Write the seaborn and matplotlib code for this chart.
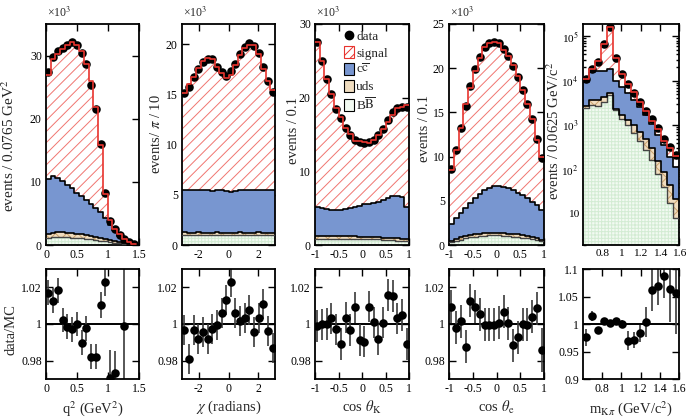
import numpy as np
import pandas as pd
import matplotlib
matplotlib.use("Agg")
import matplotlib.pyplot as plt
import seaborn as sns
from matplotlib.patches import Patch
from matplotlib.lines import Line2D
from matplotlib.ticker import FixedLocator, FuncFormatter, LogLocator, NullFormatter, FixedFormatter

# ---------------- data (values in units of 10^3 events for the linear panels) -------------
q2_edges_start, q2_binw, q2_nbins = 0.0, 0.0765, 19
q2_data = [27.4, 29.8, 30.7, 31.2, 31.7, 32.1, 31.7, 30.4, 28.6, 25.4, 21.5, 16.0, 8.3, 3.8, 2.5, 1.6, 0.9, 0.5, 0.15]
q2_mc = [26.9, 29.4, 30.2, 31.1, 31.75, 32.2, 31.7, 30.7, 28.7, 25.9, 21.9, 15.8, 8.1, 3.9, 2.6, 1.7, 0.9, 0.5, 0.15]
q2_cc = [10.4, 11.0, 10.6, 10.1, 9.5, 9.0, 8.3, 7.7, 7.1, 6.5, 5.8, 5.3, 4.2, 3.2, 2.3, 1.5, 0.8, 0.35, 0.08]
q2_uds = [1.7, 1.9, 2.0, 2.0, 1.95, 1.9, 1.8, 1.7, 1.6, 1.45, 1.3, 1.15, 0.95, 0.8, 0.6, 0.4, 0.25, 0.12, 0.03]
q2_bb = [1.1, 1.2, 1.25, 1.25, 1.2, 1.15, 1.1, 1.05, 1.0, 0.9, 0.8, 0.7, 0.6, 0.5, 0.38, 0.26, 0.16, 0.08, 0.02]
q2_ratio = [1.0171, 1.0127, 1.0185, 1.0022, 0.9985, 0.9971, 1.0, 0.9898, 0.9976, 0.9822, 0.9822,
            1.0104, 1.0227, 0.9707, 0.9735, np.nan, 0.9989]
q2_ratio_err = [0.007, 0.0068, 0.0068, 0.0068, 0.0068, 0.0068, 0.0068, 0.0068, 0.007, 0.007, 0.007,
                0.0072, 0.0075, 0.015, 0.012, np.nan, 0.05]

chi_nbins = 20
chi_data = [15.1, 15.7, 16.7, 17.5, 18.2, 18.5, 18.5, 17.7, 17.2, 16.8, 17.3, 18.0, 19.0, 19.7, 20.1, 19.8, 19.1, 17.7, 16.3, 15.2]
chi_mc = [15.15, 16.0, 16.75, 17.65, 18.3, 18.65, 18.55, 17.7, 17.1, 16.6, 16.9, 17.9, 18.95, 19.6, 19.95, 19.9, 19.05, 17.5, 16.35, 15.4]
chi_cc = [5.5, 5.45, 5.5, 5.5, 5.45, 5.5, 5.4, 5.45, 5.45, 5.4, 5.3, 5.4, 5.45, 5.5, 5.45, 5.5, 5.5, 5.45, 5.5, 5.45]
chi_uds = [1.25, 1.2, 1.2, 1.25, 1.2, 1.2, 1.2, 1.25, 1.2, 1.2, 1.2, 1.2, 1.25, 1.2, 1.2, 1.2, 1.25, 1.2, 1.2, 1.2]
chi_bb = [0.95, 0.95, 0.95, 0.95, 0.95, 0.95, 0.95, 0.95, 0.95, 0.95, 0.95, 0.95, 0.95, 0.95, 0.95, 0.95, 0.95, 0.95, 0.95, 0.95]
chi_ratio = [0.9967, 0.9809, 0.9967, 0.9916, 0.9958, 0.9916, 0.9971, 0.9995, 1.0062, 1.0131, 1.0231, 1.0062,
             1.0016, 1.0035, 1.0076, 0.9958, 1.0035, 1.0109, 0.9962, 0.9867]
chi_ratio_err = [0.0082] * 20

ck_data = [27.5, 25.0, 22.6, 20.5, 18.5, 17.2, 15.9, 15.0, 14.3, 14.0, 13.8, 14.0, 14.3, 14.9, 15.8, 17.0, 18.0, 18.6, 18.8, 18.8]
ck_mc = [27.5, 25.0, 22.6, 20.45, 18.55, 17.4, 15.85, 15.05, 14.15, 14.1, 13.95, 13.85, 14.3, 15.0, 15.8, 16.7, 17.7, 18.55, 18.7, 19.0]
ck_cc = [5.1, 5.0, 4.9, 4.8, 4.75, 4.8, 4.9, 5.0, 5.2, 5.35, 5.5, 5.6, 5.75, 5.9, 6.1, 6.4, 6.7, 6.7, 6.5, 5.1]
ck_uds = [1.25, 1.25, 1.25, 1.25, 1.2, 1.2, 1.2, 1.2, 1.2, 1.15, 1.15, 1.1, 1.1, 1.05, 1.0, 1.0, 0.95, 0.9, 0.85, 0.8]
ck_bb = [0.85, 0.85, 0.85, 0.85, 0.85, 0.85, 0.85, 0.85, 0.8, 0.8, 0.8, 0.8, 0.75, 0.75, 0.7, 0.7, 0.65, 0.6, 0.55, 0.5]
ck_ratio = [0.9989, 0.9998, 1.0, 1.0031, 0.9971, 0.9891, 1.0035, 0.9967, 1.0091, 0.9913, 0.9904, 1.0095,
            1.0009, 0.9918, 1.0007, 1.0158, 1.0153, 1.0031, 1.0049, 0.9891]
ck_ratio_err = [0.0085] * 20

ce_data = [8.6, 10.7, 13.2, 15.7, 18.0, 19.9, 21.3, 22.4, 22.9, 23.0, 22.9, 22.2, 21.4, 20.2, 19.0, 17.5, 15.9, 14.3, 12.0, 9.8]
ce_mc = [8.5, 10.7, 13.2, 15.9, 17.8, 19.7, 21.2, 22.4, 22.9, 23.0, 22.9, 22.05, 21.4, 20.4, 19.15, 17.5, 15.9, 14.25, 11.9, 9.95]
ce_cc = [2.4, 3.0, 3.6, 4.2, 4.8, 5.3, 5.8, 6.2, 6.5, 6.7, 6.7, 6.6, 6.4, 6.2, 5.9, 5.6, 5.3, 4.9, 4.5, 4.0]
ce_uds = [0.45, 0.65, 0.85, 1.0, 1.15, 1.25, 1.3, 1.35, 1.4, 1.4, 1.4, 1.35, 1.3, 1.25, 1.2, 1.1, 1.0, 0.9, 0.8, 0.6]
ce_bb = [0.3, 0.45, 0.6, 0.75, 0.85, 0.95, 1.0, 1.05, 1.1, 1.1, 1.1, 1.05, 1.0, 0.95, 0.9, 0.8, 0.75, 0.65, 0.55, 0.4]
ce_ratio = [1.0095, 0.998, 1.0016, 0.9876, 1.0127, 1.0095, 1.0053, 0.9995, 0.9995, 0.9995, 1.0007, 1.0067,
            1.0005, 0.9883, 0.9927, 1.0, 0.9995, 1.004, 1.0085, 0.9858]
ce_ratio_err = [0.009] * 19 + [0.012]

# m_Kpi panel: absolute events (log scale)
m_data = [1.07e4, 1.86e4, 2.7e4, 6.8e4, 1.6e5, 3.3e4, 1.45e4, 8.3e3, 5.3e3, 3.3e3, 2.1e3, 1.35e3, 860, 490, 320, 210]
m_mc = [1.1e4, 1.83e4, 2.73e4, 6.76e4, 1.6e5, 3.28e4, 1.45e4, 8.55e3, 5.45e3, 3.35e3, 2.1e3, 1.27e3, 805, 450, 300, 200]
m_cc = [9.6e3, 1.58e4, 1.7e4, 1.63e4, 1.85e4, 1.0e4, 7.4e3, 5.4e3, 3.7e3, 2.6e3, 1.7e3, 1.05e3, 590, 350, 188, 113]
m_uds = [2.7e3, 3.7e3, 3.7e3, 4.3e3, 5.3e3, 2.3e3, 1.7e3, 1.3e3, 1.0e3, 710, 500, 305, 158, 87, 44, 22]
m_bb = [2.5e3, 2.8e3, 2.7e3, 3.4e3, 4.8e3, 2.2e3, 1.4e3, 1.0e3, 650, 435, 270, 166, 80, 40, 18, 8]
m_ratio = [0.9758, 1.0145, 0.989, 1.006, 1.0024, 1.0055, 1.0, 0.970, 0.971, 0.983, 1.004, 1.062, 1.069, 1.087, 1.063, 1.056]
m_ratio_err = [0.016, 0.009, 0.006, 0.005, 0.004, 0.005, 0.007, 0.017, 0.015, 0.015, 0.027, 0.038, 0.035, 0.04, 0.06, 0.075]

legend_labels = ["data", "signal", r"c$\overline{\mathrm{c}}$", "uds", r"B$\overline{\mathrm{B}}$"]

# ---------------- style -------------
sns.set_style("ticks")
plt.rcParams['font.family'] = ['Liberation Serif', 'DejaVu Serif']
plt.rcParams['mathtext.fontset'] = 'stix'
plt.rcParams['axes.unicode_minus'] = False
plt.rcParams['hatch.linewidth'] = 0.7

RED = '#e8342e'
RED_HATCH = '#f07570'
BLUE = '#7896d0'
TAN_FACE = '#efdcbf'
TAN_HATCH = '#c9a06a'
GREEN_FACE = '#f2faf2'
GREEN_HATCH = '#d3ecd3'

W, H = 687, 417
fig = plt.figure(figsize=(W / 100, H / 100), dpi=100)


def px_axes(x0, x1, y0, y1):
    return fig.add_axes([x0 / W, 1 - y1 / H, (x1 - x0) / W, (y1 - y0) / H])


def style_axes(ax, labelsize=8.5):
    for s in ax.spines.values():
        s.set_visible(True)
        s.set_linewidth(1.3)
        s.set_color('black')
    ax.tick_params(which='both', direction='in', top=True, right=True, colors='black',
                   labelsize=labelsize, width=1.0, pad=3)
    ax.tick_params(which='major', length=5)
    ax.tick_params(which='minor', length=2.5)
    ax.set_facecolor('white')


def hist_layer(ax, centers, vals, edges, **kw):
    df = pd.DataFrame({'x': np.asarray(centers, float), 'w': np.asarray(vals, float)})
    sns.histplot(data=df, x='x', weights='w', bins=list(edges), element='step', ax=ax, **kw)


def draw_stack(ax, edges, mc, cc, uds, bb, data):
    centers = (edges[:-1] + edges[1:]) / 2
    layers = [(mc, 'white', RED_HATCH, '///'),
              (cc, BLUE, BLUE, None),
              (uds, TAN_FACE, TAN_HATCH, 'xxx'),
              (bb, GREEN_FACE, GREEN_HATCH, '+++++')]
    for vals, face, hc, hatch in layers:
        n0 = len(ax.collections)
        hist_layer(ax, centers, vals, edges, fill=True, color=face, alpha=1, linewidth=0)
        for coll in ax.collections[n0:]:
            coll.set_facecolor(face)
            coll.set_edgecolor(hc)
            coll.set_linewidth(0)
            if hatch:
                coll.set_hatch(hatch)
    sns.scatterplot(x=centers, y=data, ax=ax, color='black', s=38, linewidth=0, zorder=3)
    for vals, c, lw in [(bb, '#444444', 1.0), (uds, 'black', 1.2), (cc, 'black', 1.2), (mc, RED, 1.2)]:
        hist_layer(ax, centers, vals, edges, fill=False, color=c, linewidth=lw, zorder=4)
    ax.set_xlabel('')
    ax.set_ylabel('')


def draw_ratio(ax, centers, ratio, err):
    ratio = np.asarray(ratio, float)
    err = np.asarray(err, float)
    ok = ~np.isnan(ratio)
    ax.axhline(1.0, color='black', lw=1.4, zorder=1)
    ax.errorbar(centers[ok], ratio[ok], yerr=err[ok], fmt='none', ecolor='#3a3a3a', elinewidth=1.2, zorder=2)
    sns.scatterplot(x=centers[ok], y=ratio[ok], ax=ax, color='black', s=38, linewidth=0, zorder=3)
    ax.set_xlabel('')
    ax.set_ylabel('')


gfmt = FuncFormatter(lambda v, p: '%g' % v)

xs = [(46, 139), (182, 275), (315, 409), (449, 544), (583, 679)]
TOP = (24, 245)
BOT = (269, 379)

q2_edges = q2_edges_start + q2_binw * np.arange(q2_nbins + 1)
chi_edges = np.linspace(-np.pi, np.pi, chi_nbins + 1)
c_edges = np.linspace(-1, 1, 21)
m_edges = np.linspace(0.6, 1.6, 17)

panels = [
    dict(edges=q2_edges, mc=q2_mc, cc=q2_cc, uds=q2_uds, bb=q2_bb, data=q2_data, xlim=(0, 1.5),
         xt=[0, 0.5, 1, 1.5], ylim=(0, 35), yt=[0, 10, 20, 30], ylabel='events / 0.0765 GeV$^2$',
         ylab_c=146, ylab_r=17, ylab_fs=11.0,
         ratio=q2_ratio, rerr=q2_ratio_err, rlim=(0.97, 1.03), rt=[0.98, 1.0, 1.02], xlabel='q$^2$ (GeV$^2$)'),
    dict(edges=chi_edges, mc=chi_mc, cc=chi_cc, uds=chi_uds, bb=chi_bb, data=chi_data, xlim=(-np.pi, np.pi),
         xt=[-2, 0, 2], ylim=(0, 22), yt=[0, 5, 10, 15, 20], ylabel='events/ $\\pi$ / 10',
         ylab_c=134, ylab_r=163, ylab_fs=10.5,
         ratio=chi_ratio, rerr=chi_ratio_err, rlim=(0.97, 1.03), rt=[0.98, 1.0, 1.02], xlabel='$\\chi$ (radians)'),
    dict(edges=c_edges, mc=ck_mc, cc=ck_cc, uds=ck_uds, bb=ck_bb, data=ck_data, xlim=(-1, 1),
         xt=[-1, -0.5, 0, 0.5, 1], ylim=(0, 30), yt=[0, 10, 20, 30], ylabel='events / 0.1',
         ylab_c=130, ylab_r=300, ylab_fs=10.5,
         ratio=ck_ratio, rerr=ck_ratio_err, rlim=(0.97, 1.03), rt=[0.98, 1.0, 1.02], xlabel='cos $\\theta_\\mathrm{K}$'),
    dict(edges=c_edges, mc=ce_mc, cc=ce_cc, uds=ce_uds, bb=ce_bb, data=ce_data, xlim=(-1, 1),
         xt=[-1, -0.5, 0, 0.5, 1], ylim=(0, 25), yt=[0, 5, 10, 15, 20, 25], ylabel='events / 0.1',
         ylab_c=129, ylab_r=431, ylab_fs=10.5,
         ratio=ce_ratio, rerr=ce_ratio_err, rlim=(0.97, 1.03), rt=[0.98, 1.0, 1.02], xlabel='cos $\\theta_\\mathrm{e}$'),
    dict(edges=m_edges, mc=m_mc, cc=m_cc, uds=m_uds, bb=m_bb, data=m_data, xlim=(0.6, 1.6),
         xt=[0.8, 1, 1.2, 1.4, 1.6], ylim=(2, 1.9e5), yt=None, ylabel='events / 0.0625 GeV/c$^2$',
         ylab_c=131, ylab_r=562, ylab_fs=10.5,
         ratio=m_ratio, rerr=m_ratio_err, rlim=(0.9, 1.1), rt=[0.9, 0.95, 1.0, 1.05, 1.1],
         xlabel='m$_{\\mathrm{K}\\pi}$ (GeV/c$^2$)'),
]

for i, p in enumerate(panels):
    x0, x1 = xs[i]
    ax = px_axes(x0, x1, *TOP)
    draw_stack(ax, p['edges'], p['mc'], p['cc'], p['uds'], p['bb'], p['data'])
    style_axes(ax, labelsize=8.5 if i < 4 else 8.2)
    ax.set_xlim(*p['xlim'])
    ax.xaxis.set_major_locator(FixedLocator(p['xt']))
    ax.xaxis.set_major_formatter(gfmt)
    if i == 4:
        ax.set_yscale('log')
        ax.set_ylim(*p['ylim'])
        ax.yaxis.set_major_locator(FixedLocator([10, 1e2, 1e3, 1e4, 1e5]))
        ax.yaxis.set_major_formatter(FixedFormatter(['10', '10$^2$', '10$^3$', '10$^4$', '10$^5$']))
        ax.yaxis.set_minor_locator(LogLocator(base=10, subs=np.arange(2, 10)))
        ax.yaxis.set_minor_formatter(NullFormatter())
    else:
        ax.set_ylim(*p['ylim'])
        ax.yaxis.set_major_locator(FixedLocator(p['yt']))
        ax.yaxis.set_major_formatter(gfmt)
        fig.text((x0 + 1) / W, 1 - 17 / H, '×10$^3$', fontsize=8.5, ha='left', va='baseline')
    ax.set_ylabel(p['ylabel'], fontsize=p['ylab_fs'])
    h = TOP[1] - TOP[0]
    ax.yaxis.set_label_coords((p['ylab_r'] - x0) / (x1 - x0), (TOP[1] - p['ylab_c']) / h)

    if i == 2:
        handles = [Line2D([], [], marker='o', color='black', linestyle='none', markersize=6),
                   Patch(facecolor='white', edgecolor=RED, hatch='////', linewidth=0.8),
                   Patch(facecolor=BLUE, edgecolor='black', linewidth=0.8),
                   Patch(facecolor=TAN_FACE, edgecolor='black', linewidth=0.8),
                   Patch(facecolor=GREEN_FACE, edgecolor='black', linewidth=0.8)]
        ax.legend(handles, legend_labels, loc='upper left', bbox_to_anchor=(0.305, 0.975), frameon=False,
                  fontsize=9.5, handlelength=0.75, handleheight=1.0, handletextpad=0.2, labelspacing=0.25,
                  borderaxespad=0, borderpad=0)

    rax = px_axes(x0, x1, *BOT)
    centers = (p['edges'][:-1] + p['edges'][1:]) / 2
    draw_ratio(rax, centers[:len(p['ratio'])], p['ratio'], p['rerr'])
    style_axes(rax)
    rax.set_xlim(*p['xlim'])
    rax.set_ylim(*p['rlim'])
    rax.xaxis.set_major_locator(FixedLocator(p['xt']))
    rax.xaxis.set_major_formatter(gfmt)
    rax.yaxis.set_major_locator(FixedLocator(p['rt']))
    rax.yaxis.set_major_formatter(gfmt)
    rax.set_xlabel(p['xlabel'], fontsize=10.5)
    rax.xaxis.set_label_coords(0.5, -0.18)
    if i == 0:
        rax.set_ylabel('data/MC', fontsize=10.5)
        rax.yaxis.set_label_coords((18 - x0) / (x1 - x0), (BOT[1] - 330) / (BOT[1] - BOT[0]))

fig.savefig('out.png', dpi=100)
